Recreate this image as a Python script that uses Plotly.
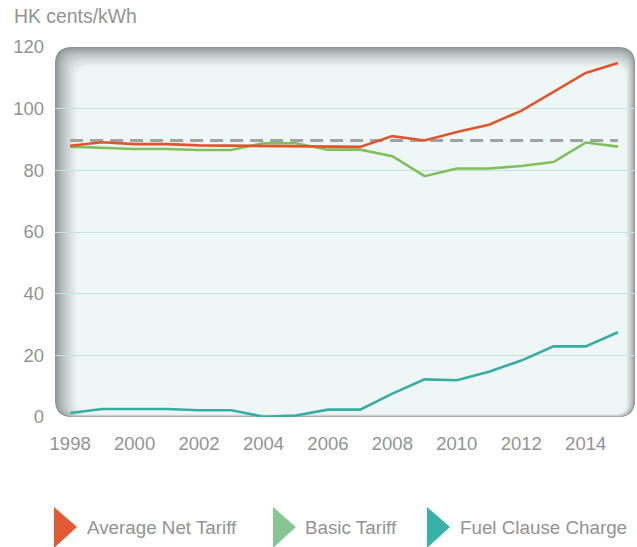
import plotly.graph_objects as go

years = list(range(1998, 2016))
avg_net_tariff = [88.0, 89.1, 88.5, 88.5, 88.1, 88.0, 87.7, 87.8, 87.6, 87.6, 91.1, 89.7, 92.4, 94.8, 99.3, 105.4, 111.6, 114.8]
basic_tariff = [87.7, 87.3, 86.9, 86.9, 86.6, 86.6, 88.8, 88.8, 86.7, 86.7, 84.6, 78.1, 80.6, 80.6, 81.4, 82.7, 89.0, 87.7]
fuel_clause = [1.3, 2.6, 2.6, 2.6, 2.2, 2.2, 0.1, 0.5, 2.4, 2.4, 7.6, 12.2, 11.9, 14.7, 18.3, 22.9, 22.9, 27.5]
reference_level = [89.7] * len(years)
x_ticks = list(range(1998, 2015, 2))
y_ticks = [0, 20, 40, 60, 80, 100, 120]
series_names = ["Average Net Tariff", "Basic Tariff", "Fuel Clause Charge"]
line_colors = ["#e0552c", "#80c05c", "#38ada2"]
legend_colors = ["#e15a33", "#86c690", "#38b1a8"]

FONT = "Liberation Sans"
TXT = "#939393"

W, H = 637, 547
L, R, T, B = 55, 2, 47, 130
PW, PH = W - L - R, H - T - B

def px2paper(x, y):
    return (x - L) / PW, (H - B - y) / PH

def rrect(x0, y0, x1, y1, r):
    def p(x, y):
        a, b = px2paper(x, y)
        return f"{a:.5f},{b:.5f}"
    s = f"M{p(x0 + r, y0)} L{p(x1 - r, y0)} Q{p(x1, y0)} {p(x1, y0 + r)} "
    s += f"L{p(x1, y1 - r)} Q{p(x1, y1)} {p(x1 - r, y1)} "
    s += f"L{p(x0 + r, y1)} Q{p(x0, y1)} {p(x0, y1 - r)} "
    s += f"L{p(x0, y0 + r)} Q{p(x0, y0)} {p(x0 + r, y0)} Z"
    return s

def lerp(c1, c2, t):
    a = [int(c1[i:i + 2], 16) for i in (1, 3, 5)]
    b = [int(c2[i:i + 2], 16) for i in (1, 3, 5)]
    return "#" + "".join(f"{round(a[k] + (b[k] - a[k]) * t):02x}" for k in range(3))

shapes = []
N = 28
x0, y0, x1, y1 = L, T, W - R, H - B
for i in range(N):
    t = i / (N - 1)
    col = lerp("#8a9090", "#eff7f6", t ** 0.7)
    shapes.append(dict(type="path", xref="paper", yref="paper", layer="below",
                       path=rrect(x0 + 22 * t, y0 + 20 * t, x1 - 9 * t, y1 - 3 * t, max(17 - 6 * t, 6)),
                       fillcolor=col, line=dict(width=0)))

fig = go.Figure()
fig.add_trace(go.Scatter(x=years, y=reference_level, mode="lines",
                         line=dict(color="#a2a2a2", width=3, dash="13px,7px"), showlegend=False, hoverinfo="skip"))
fig.add_trace(go.Scatter(x=years, y=basic_tariff, mode="lines", name=series_names[1],
                         line=dict(color=line_colors[1], width=2.6), showlegend=False))
fig.add_trace(go.Scatter(x=years, y=fuel_clause, mode="lines", name=series_names[2],
                         line=dict(color=line_colors[2], width=2.6), showlegend=False))
fig.add_trace(go.Scatter(x=years, y=avg_net_tariff, mode="lines", name=series_names[0],
                         line=dict(color=line_colors[0], width=2.6), showlegend=False))

# legend (triangles + text)
tri_x = [54, 273, 427]
text_x = [85, 303, 458]
annotations = [dict(text="HK cents/kWh", xref="paper", yref="paper",
                    x=px2paper(12, 0)[0], y=px2paper(0, 16)[1], xanchor="left", yanchor="middle",
                    showarrow=False, font=dict(size=19.4, color=TXT, family=FONT))]
for lx, tx, name, col in zip(tri_x, text_x, series_names, legend_colors):
    pts = [px2paper(lx, 507), px2paper(lx + 23, 527), px2paper(lx, 548)]
    shapes.append(dict(type="path", xref="paper", yref="paper", layer="above",
                       path="M" + " L".join(f"{a:.5f},{b:.5f}" for a, b in pts) + " Z",
                       fillcolor=col, line=dict(width=0)))
    annotations.append(dict(text=name, xref="paper", yref="paper",
                            x=px2paper(tx, 0)[0], y=px2paper(0, 527)[1],
                            xanchor="left", yanchor="middle", showarrow=False,
                            font=dict(size=18.8, color=TXT, family=FONT)))

fig.update_layout(
    width=W, height=H, margin=dict(l=L, r=R, t=T, b=B),
    paper_bgcolor="white", plot_bgcolor="rgba(0,0,0,0)",
    shapes=shapes, annotations=annotations,
    font=dict(family=FONT, color=TXT, size=18),
    xaxis=dict(range=[1997.53, 2015.53], tickvals=x_ticks, showgrid=False, zeroline=False,
               showline=False, ticks="", ticklabelstandoff=13, tickfont=dict(size=18.5, color=TXT, family=FONT)),
    yaxis=dict(range=[0, 120], tickvals=y_ticks, showgrid=True, gridcolor="#c6e1dd", gridwidth=1,
               zeroline=False, showline=False, ticks="", ticklabelstandoff=10,
               tickfont=dict(size=18.5, color=TXT, family=FONT)),
)
fig.write_html("out.html")
